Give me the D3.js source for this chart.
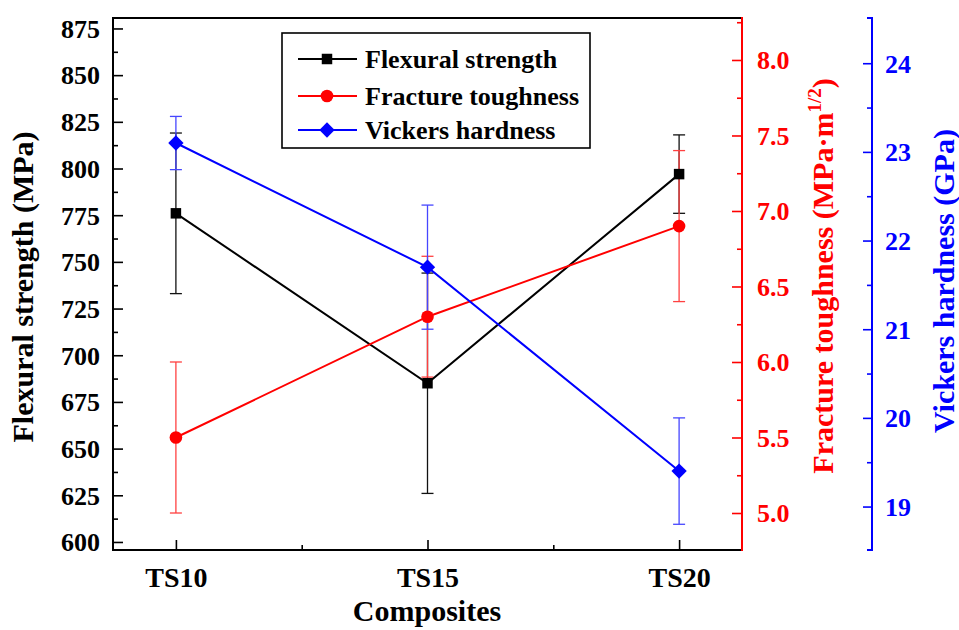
<!DOCTYPE html>
<html>
<head>
<meta charset="utf-8">
<script src="https://cdn.jsdelivr.net/npm/d3@7"></script>
<style>
  html, body { margin: 0; padding: 0; background: #fff; }
  svg { display: block; }
  text { font-family: "Liberation Serif", "Times New Roman", serif; font-weight: bold; }
</style>
</head>
<body>
<svg id="chart" width="959" height="630"></svg>
<script>
// Composite samples on the x axis
const categories = ["TS10", "TS15", "TS20"];

// Flexural strength (MPa) with standard deviation
const flexural = [776, 685, 797];
const flexuralErr = [43, 59, 21];

// Fracture toughness (MPa·m^1/2) with standard deviation
const toughness = [5.5, 6.3, 6.9];
const toughnessErr = [0.5, 0.4, 0.5];

// Vickers hardness (GPa) with standard deviation
const hardness = [23.1, 21.7, 19.4];
const hardnessErr = [0.3, 0.7, 0.6];

// Tick values for the three vertical axes
const leftTicks = [600, 625, 650, 675, 700, 725, 750, 775, 800, 825, 850, 875];
const redTicks = [5.0, 5.5, 6.0, 6.5, 7.0, 7.5, 8.0];
const blueTicks = [19, 20, 21, 22, 23, 24];

const legendLabels = ["Flexural strength", "Fracture toughness", "Vickers hardness"];

const svg = d3.select("#chart");
const plot = { left: 113, right: 742, top: 18, bottom: 550 };
const blueAxisX = 872;

const x = d3.scalePoint().domain(categories).range([plot.left, plot.right]).padding(0.25);
const yL = d3.scaleLinear().domain([595.7, 880.6]).range([plot.bottom, plot.top]);
const yR = d3.scaleLinear().domain([4.755, 8.278]).range([plot.bottom, plot.top]);
const yB = d3.scaleLinear().domain([18.51, 24.51]).range([plot.bottom, plot.top]);

const RED = "#ff0000", BLUE = "#0000ff", BLACK = "#000000";

function styleAxis(g, color, width) {
  g.select(".domain").remove();
  g.selectAll(".tick line").attr("stroke", color).attr("stroke-width", width);
  g.selectAll(".tick text").attr("fill", color);
}

// ---- left axis (flexural strength) ----
const minorLeft = d3.range(612.5, 880, 25);
svg.append("g").attr("transform", `translate(${plot.left},0)`)
  .call(d3.axisLeft(yL).tickValues(minorLeft).tickSize(-5).tickFormat(""))
  .call(g => styleAxis(g, BLACK, 1.6));
svg.append("g").attr("transform", `translate(${plot.left},0)`)
  .call(d3.axisLeft(yL).tickValues(leftTicks).tickSize(-10).tickPadding(13).tickFormat(d3.format("d")))
  .call(g => styleAxis(g, BLACK, 1.6))
  .call(g => g.selectAll(".tick text").attr("font-size", 26).attr("dy", "0.34em"));

// ---- bottom axis (composites) ----
const minorBottom = [0, 1].map(i => (x(categories[i]) + x(categories[i + 1])) / 2);
svg.append("g").attr("transform", `translate(0,${plot.bottom})`)
  .call(d3.axisBottom(d3.scaleLinear().domain([plot.left, plot.right]).range([plot.left, plot.right]))
    .tickValues(minorBottom).tickSize(-5).tickFormat(""))
  .call(g => styleAxis(g, BLACK, 1.6));
svg.append("g").attr("transform", `translate(0,${plot.bottom})`)
  .call(d3.axisBottom(x).tickSize(-10).tickPadding(17))
  .call(g => styleAxis(g, BLACK, 1.6))
  .call(g => g.selectAll(".tick text").attr("font-size", 28));

// ---- right axis (fracture toughness, red) ----
const minorRed = d3.range(4.75, 8.3, 0.5).map(v => +v.toFixed(2)).filter(v => v >= 4.755 && v <= 8.278);
svg.append("g").attr("transform", `translate(${plot.right},0)`)
  .call(d3.axisRight(yR).tickValues(minorRed).tickSize(-5).tickFormat(""))
  .call(g => styleAxis(g, RED, 1.6));
svg.append("g").attr("transform", `translate(${plot.right},0)`)
  .call(d3.axisRight(yR).tickValues(redTicks).tickSize(-10).tickPadding(15).tickFormat(d3.format(".1f")))
  .call(g => styleAxis(g, RED, 1.6))
  .call(g => g.selectAll(".tick text").attr("font-size", 26).attr("dy", "0.34em"));

// ---- offset axis (Vickers hardness, blue) ----
const minorBlue = d3.range(19.5, 24.5, 1);
svg.append("g").attr("transform", `translate(${blueAxisX},0)`)
  .call(d3.axisRight(yB).tickValues(minorBlue).tickSize(-5).tickFormat(""))
  .call(g => styleAxis(g, BLUE, 1.6));
svg.append("g").attr("transform", `translate(${blueAxisX},0)`)
  .call(d3.axisRight(yB).tickValues(blueTicks).tickSize(-9).tickPadding(13).tickFormat(d3.format("d")))
  .call(g => styleAxis(g, BLUE, 1.6))
  .call(g => g.selectAll(".tick text").attr("font-size", 26).attr("dy", "0.34em"));

// ---- frame and axis lines ----
const frame = svg.append("g").attr("fill", "none");
frame.append("path").attr("stroke", BLACK).attr("stroke-width", 2)
  .attr("d", `M${plot.right},${plot.top}H${plot.left}V${plot.bottom}H${plot.right}`);
frame.append("line").attr("stroke", RED).attr("stroke-width", 2)
  .attr("x1", plot.right).attr("x2", plot.right).attr("y1", plot.top - 1).attr("y2", plot.bottom + 1);
frame.append("path").attr("stroke", BLUE).attr("stroke-width", 2)
  .attr("d", `M${blueAxisX - 5},${plot.top}H${blueAxisX}V${plot.bottom}H${blueAxisX - 5}`);

// ---- series ----
const series = [
  { values: flexural, errors: flexuralErr, y: yL, color: BLACK, errColor: "#111", marker: "square" },
  { values: toughness, errors: toughnessErr, y: yR, color: RED, errColor: "#ff4040", marker: "circle" },
  { values: hardness, errors: hardnessErr, y: yB, color: BLUE, errColor: "#4646ff", marker: "diamond" }
];

const symbolFor = {
  square: d3.symbol().type(d3.symbolSquare).size(110),
  circle: d3.symbol().type(d3.symbolCircle).size(125),
  diamond: d3.symbol().type(d3.symbolDiamond2).size(150)
};

// error bars first, in series order
series.forEach(s => {
  const g = svg.append("g").attr("stroke", s.errColor).attr("stroke-width", 1.3).attr("fill", "none");
  categories.forEach((c, i) => {
    const cx = x(c), hi = s.y(s.values[i] + s.errors[i]), lo = s.y(s.values[i] - s.errors[i]);
    g.append("line").attr("x1", cx).attr("x2", cx).attr("y1", hi).attr("y2", lo);
    g.append("line").attr("x1", cx - 6).attr("x2", cx + 6).attr("y1", hi).attr("y2", hi);
    g.append("line").attr("x1", cx - 6).attr("x2", cx + 6).attr("y1", lo).attr("y2", lo);
  });
});

// connecting lines and markers
series.forEach(s => {
  const line = d3.line().x((d, i) => x(categories[i])).y(d => s.y(d));
  svg.append("path").datum(s.values).attr("d", line)
    .attr("fill", "none").attr("stroke", s.color).attr("stroke-width", 2);
  svg.append("g").selectAll("path").data(s.values).join("path")
    .attr("transform", (d, i) => `translate(${x(categories[i])},${s.y(d)})`)
    .attr("d", symbolFor[s.marker]())
    .attr("fill", s.color);
});

// ---- axis titles ----
svg.append("text").attr("transform", "translate(33,287) rotate(-90)")
  .attr("text-anchor", "middle").attr("font-size", 30).attr("fill", BLACK)
  .text("Flexural strength (MPa)");

const redTitle = svg.append("text").attr("transform", "translate(833,276) rotate(-90)")
  .attr("text-anchor", "middle").attr("font-size", 30).attr("fill", RED);
redTitle.append("tspan").text("Fracture toughness (MPa·m");
redTitle.append("tspan").attr("font-size", 19).attr("dy", -12).text("1/2");
redTitle.append("tspan").attr("dy", 12).text(")");

svg.append("text").attr("transform", "translate(954,281) rotate(-90)")
  .attr("text-anchor", "middle").attr("font-size", 30).attr("fill", BLUE)
  .text("Vickers hardness (GPa)");

svg.append("text").attr("x", 427).attr("y", 621)
  .attr("text-anchor", "middle").attr("font-size", 30).attr("fill", BLACK)
  .text("Composites");

// ---- legend ----
const legend = svg.append("g");
legend.append("rect").attr("x", 282).attr("y", 33).attr("width", 308).attr("height", 115)
  .attr("fill", "#fff").attr("stroke", BLACK).attr("stroke-width", 1.6);
const rowY = [59, 96, 130];
series.forEach((s, i) => {
  const row = legend.append("g").attr("transform", `translate(0,${rowY[i]})`);
  row.append("line").attr("x1", 298).attr("x2", 357).attr("y1", 0).attr("y2", 0)
    .attr("stroke", s.color).attr("stroke-width", 2);
  row.append("path").attr("transform", "translate(327,0)").attr("d", symbolFor[s.marker]()).attr("fill", s.color);
  row.append("text").attr("x", 365).attr("y", 0).attr("dy", "0.34em")
    .attr("font-size", 26).attr("fill", BLACK).text(legendLabels[i]);
});
</script>
</body>
</html>
